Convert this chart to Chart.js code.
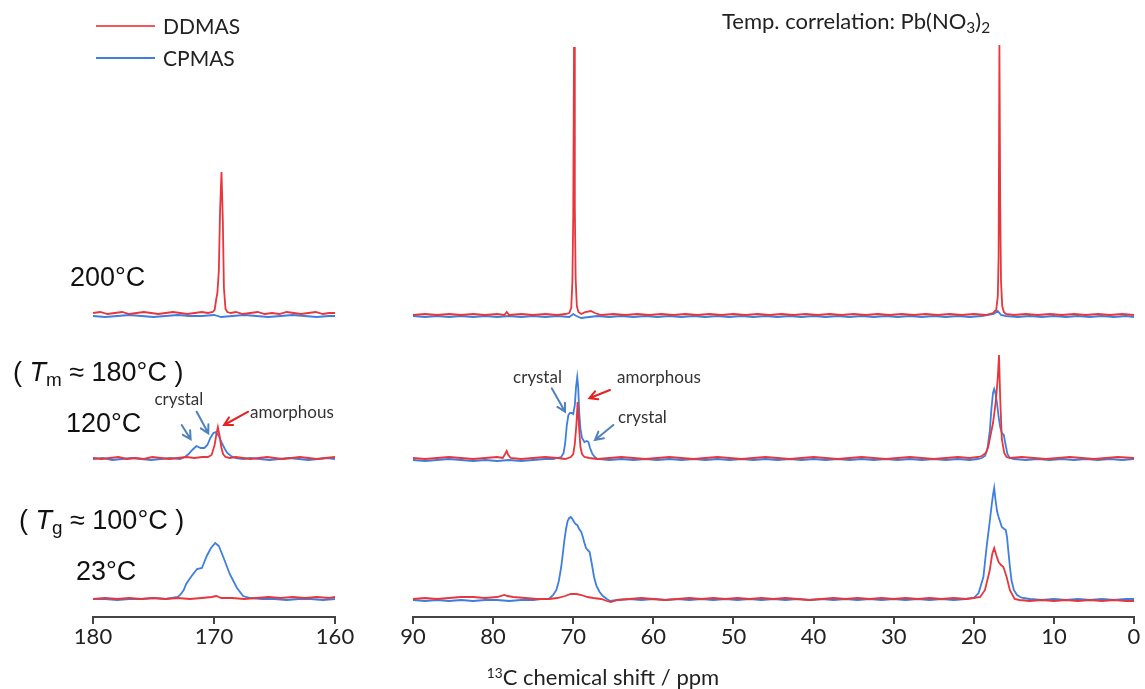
<!DOCTYPE html>
<html>
<head>
<meta charset="utf-8">
<script src="https://cdn.jsdelivr.net/npm/chart.js@4.4.0/dist/chart.umd.min.js"></script>
<style>
  body { margin: 0; width: 1145px; height: 689px; overflow: hidden; background: #fff; position: relative; font-family: Lato, sans-serif; color: #222; }
  canvas { position: absolute; top: 0; }
  #leftChart { left: 63px; }
  #rightChart { left: 388px; }
  .txt { position: absolute; white-space: nowrap; line-height: 1; }
  .temp { font-family: "Liberation Sans", Arial, sans-serif; font-size: 27px; color: #111; }
  .legline { position: absolute; left: 96px; width: 59px; height: 2px; }
  .leg { font-size: 21px; left: 163px; }
  sub { font-size: 70%; vertical-align: -0.25em; line-height: 0; }
  sup { font-size: 62%; vertical-align: 0.55em; line-height: 0; }
</style>
</head>
<body>
<canvas id="leftChart" width="302" height="689"></canvas>
<canvas id="rightChart" width="758" height="689"></canvas>

<div class="legline" style="top:25px;background:#ee5a5a"></div>
<div class="txt leg" style="top:15px">DDMAS</div>
<div class="legline" style="top:57px;background:#3d7ee0"></div>
<div class="txt leg" style="top:47px">CPMAS</div>

<div class="txt" style="left:722px;top:10px;font-size:22px">Temp. correlation: Pb(NO<sub>3</sub>)<sub>2</sub></div>

<div class="txt temp" style="left:70px;top:264px">200°C</div>
<div class="txt temp" style="left:13px;top:359px">( <i>T</i><sub>m</sub> ≈ 180°C )</div>
<div class="txt temp" style="left:66px;top:410px">120°C</div>
<div class="txt temp" style="left:19px;top:507px">( <i>T</i><sub>g</sub> ≈ 100°C )</div>
<div class="txt temp" style="left:76px;top:558px">23°C</div>

<div class="txt" style="left:603px;top:666px;font-size:22px;transform:translateX(-50%)"><sup>13</sup>C chemical shift / ppm</div>

<script>
// baselines of the three stacked spectra (y units, 1 unit = 1 px above the axis)
const offsets = { t200: 301, t120: 158, t23: 18 };

// ---- left panel, 180-160 ppm : [ppm, intensity] ----
const ddmas200L = [[180,3],[179.4,4],[178.8,2],[178.2,3],[177.6,4],[177,2],[176.4,3],[175.8,4],[175.2,3],[174.6,2],[174,3],[173.4,4],[172.8,3],[172.2,2],[171.6,3],[171,4],[170.5,3],[170.1,4],[169.95,6],[169.8,18],[169.72,23],[169.6,45],[169.5,105],[169.38,144],[169.27,95],[169.18,28],[169.05,7],[168.9,4],[168.6,3],[168.2,4],[167.6,2],[167,3],[166.4,4],[165.8,2],[165.2,3],[164.6,2],[164,4],[163.4,3],[162.8,2],[162.2,3],[161.6,4],[161,2],[160.5,3],[160,3]];
const cpmas200L = [[180,0],[179,-1],[178,0],[177,1],[176,0],[175,-1],[174,0],[173,1],[172,0],[171,0],[170,1],[169.4,-1],[168.5,0],[167.5,1],[166.5,0],[165.5,-1],[164.5,0],[163.5,1],[162.5,0],[161.5,-1],[160.5,0],[160,0]];

const ddmas120L = [[180,1],[179.3,0],[178.6,1],[177.9,2],[177.2,0],[176.5,1],[175.8,0],[175.1,2],[174.4,1],[173.7,0],[173,1],[172.3,2],[171.6,1],[171,2],[170.5,2],[170.2,4],[169.95,14],[169.8,25],[169.68,32],[169.55,24],[169.4,12],[169.25,5],[169.05,2],[168.7,1],[168.2,2],[167.6,1],[167,0],[166.3,1],[165.6,2],[165,1],[164.3,0],[163.6,1],[162.9,2],[162.2,1],[161.5,0],[160.8,1],[160,2]];
const cpmas120L = [[180,0],[179.2,1],[178.4,-1],[177.6,0],[176.8,1],[176,0],[175.2,-1],[174.4,0],[173.6,1],[172.8,0],[172.4,2],[172.1,5],[171.8,9],[171.45,13],[171.1,11],[170.8,11],[170.55,14],[170.3,21],[170.05,26],[169.85,27],[169.6,23],[169.35,16],[169.1,10],[168.9,6],[168.6,3],[168.2,1],[167.6,0],[167,1],[166.2,0],[165.4,-1],[164.6,0],[163.8,1],[163,0],[162.2,-1],[161.4,0],[160.6,1],[160,0]];

const ddmas23L = [[180,0],[179,1],[178,0],[177,1],[176,0],[175,1],[174,0],[173,1],[172,0],[171,1],[170.2,2],[169.8,3],[169.4,1],[168.5,1],[167.5,0],[166.5,1],[165.5,2],[164.5,1],[163.5,2],[162.5,1],[161.5,2],[160.5,1],[160,2]];
const cpmas23L = [[180,0],[179,0],[178,-1],[177,0],[176,0],[175,1],[174,0],[173.5,1],[173,2],[172.8,4],[172.5,9],[172.3,15],[171.85,23],[171.4,30],[171.0,31],[170.6,43],[170.25,51],[169.9,56],[169.6,53],[169.2,41],[168.7,25],[168.1,11],[167.6,3],[167,1],[166,0],[165,0],[164,-1],[163,0],[162,0],[161,-1],[160,0]];

// ---- right panel, 90-0 ppm ----
const ddmas200R = [[90,1],[88.5,2],[87,1],[85.5,2],[84,1],[82.5,2],[81,1],[79.5,2],[78.6,1],[78.3,4],[78,1],[76.5,2],[75,1],[73.5,2],[72,1],[71,2],[70.5,3],[70.25,8],[70.1,35],[70,100],[69.9,269],[69.8,110],[69.7,38],[69.55,10],[69.35,4],[69,2],[68.5,4],[67.8,5],[67.3,3],[66.5,1],[65,2],[63.5,1],[62,2],[60.5,1],[59,2],[57.5,1],[56,2],[54.5,1],[53,2],[51.5,1],[50,2],[48.5,1],[47,2],[45.5,1],[44,2],[42.5,1],[41,2],[39.5,1],[38,2],[36.5,1],[35,2],[33.5,1],[32,2],[30.5,1],[29,2],[27.5,1],[26,2],[24.5,1],[23,2],[21.5,1],[20,2],[18.5,1],[17.6,3],[17.2,6],[17,20],[16.9,60],[16.8,271],[16.7,110],[16.6,35],[16.45,10],[16.25,4],[16,2],[15,1],[13.5,2],[12,1],[10.5,2],[9,1],[7.5,2],[6,1],[4.5,2],[3,1],[1.5,2],[0,1]];
const cpmas200R = [[90,0],[88.5,-1],[87,0],[85.5,-1],[84,0],[82.5,-1],[81,0],[79.5,-1],[78,0],[76.5,-1],[75,0],[73.5,-1],[72,0],[70.5,-1],[70,2],[69.6,0],[69,-2],[68,-1],[67,0],[65.5,-1],[64,0],[62.5,-1],[61,0],[59.5,-1],[58,0],[56.5,-1],[55,0],[53.5,-1],[52,0],[50.5,-1],[49,0],[47.5,-1],[46,0],[44.5,-1],[43,0],[41.5,-1],[40,0],[38.5,-1],[37,0],[35.5,-1],[34,0],[32.5,-1],[31,0],[29.5,-1],[28,0],[26.5,-1],[25,0],[23.5,-1],[22,0],[20.5,-1],[19,0],[17.5,2],[17,5],[16.6,1],[16,0],[14.5,-1],[13,0],[11.5,-1],[10,0],[8.5,-1],[7,0],[5.5,-1],[4,0],[2.5,-1],[1,0],[0,-1]];

const ddmas120R = [[90,1],[88.5,0],[87,1],[85.5,2],[84,1],[82.5,0],[81,1],[79.5,2],[78.8,1],[78.5,5],[78.3,8],[78.1,4],[77.8,1],[76.5,0],[75,1],[73.5,2],[72,1],[71,0],[70.3,2],[70,5],[69.8,15],[69.6,35],[69.45,57],[69.3,35],[69.1,12],[68.9,5],[68.6,2],[68,1],[67,0],[65.5,1],[64,2],[62.5,1],[61,0],[59.5,1],[58,2],[56.5,1],[55,0],[53.5,1],[52,2],[50.5,1],[49,0],[47.5,1],[46,2],[44.5,1],[43,0],[41.5,1],[40,2],[38.5,1],[37,0],[35.5,1],[34,2],[32.5,1],[31,0],[29.5,1],[28,2],[26.5,1],[25,0],[23.5,1],[22,2],[20.5,1],[19.5,2],[19,3],[18.5,6],[18.2,12],[17.9,24],[17.6,36],[17.4,48],[17.2,62],[17.0,82],[16.85,104],[16.7,60],[16.5,20],[16.2,6],[15.9,2],[15.5,1],[14,2],[12.5,1],[11,0],[9.5,1],[8,2],[6.5,1],[5,0],[3.5,1],[2,2],[0,1]];
const cpmas120R = [[90,-1],[88.5,-2],[87,-1],[85.5,0],[84,-1],[82.5,-2],[81,-1],[79.5,-2],[78,-1],[76.5,-2],[75,-1],[73.5,0],[72.5,0],[72,1],[71.5,2],[71.2,6],[71,16],[70.8,34],[70.6,44],[70.4,46],[70.2,46],[70,45],[69.8,54],[69.65,72],[69.5,82],[69.38,72],[69.25,47],[69.1,30],[68.9,21],[68.6,17],[68.3,18],[68.1,17],[67.9,11],[67.6,5],[67.3,2],[67,0],[65.5,-1],[64,0],[62.5,-1],[61,0],[59.5,-1],[58,0],[56.5,-1],[55,0],[53.5,-1],[52,0],[50.5,-1],[49,0],[47.5,-1],[46,0],[44.5,-1],[43,0],[41.5,-1],[40,0],[38.5,-1],[37,0],[35.5,-1],[34,0],[32.5,-1],[31,0],[29.5,-1],[28,0],[26.5,-1],[25,0],[23.5,-1],[22,0],[20.5,-1],[19.5,0],[19,1],[18.6,3],[18.3,10],[18.0,28],[17.8,50],[17.6,66],[17.45,70],[17.3,66],[17.1,56],[16.9,42],[16.7,32],[16.5,26],[16.25,24],[16.05,15],[15.8,5],[15.5,1],[15,0],[13.5,-1],[12,0],[10.5,-1],[9,0],[7.5,-1],[6,0],[4.5,-1],[3,0],[1.5,-1],[0,0]];

const ddmas23R = [[90,0],[88.5,1],[87,0],[85.5,1],[84,2],[82.5,2],[81,1],[79.5,2],[78.6,4],[78.2,3],[77.5,2],[76,1],[74.5,0],[73,0],[72,1],[71,3],[70.3,5],[69.6,5],[69,4],[68.2,2],[67.5,1],[66.5,0],[65.8,-2],[65.3,-3],[64.5,-1],[63,0],[61.5,1],[60,0],[58.5,-1],[57,0],[55.5,1],[54,0],[52.5,1],[51,0],[49.5,1],[48,0],[46.5,1],[45,0],[43.5,1],[42,0],[40.5,-1],[39,0],[37.5,1],[36,0],[34.5,1],[33,0],[31.5,1],[30,0],[28.5,1],[27,0],[25.5,1],[24,0],[22.5,1],[21,0],[20,1],[19.2,2],[18.6,9],[18.0,29],[17.7,45],[17.45,51],[17.2,44],[16.9,37],[16.6,34],[16.3,32],[15.9,22],[15.5,9],[14.9,0],[14.3,-1],[13,-2],[11.5,-1],[10,-2],[8.5,-1],[7,-2],[5.5,-1],[4,-2],[2.5,-1],[1,-2],[0,-2]];
const cpmas23R = [[90,-1],[88.5,-2],[87,-1],[85.5,-2],[84,-1],[82.5,-2],[81,-1],[79.5,-1],[78,-2],[76.5,-1],[75,-1],[74,0],[73.2,0],[72.9,1],[72.5,4],[72.1,9],[71.8,18],[71.5,32],[71.3,45],[71.1,59],[70.9,70],[70.7,78],[70.5,81],[70.3,82],[70.1,80],[69.9,77],[69.7,75],[69.5,74],[69.25,70],[69.0,67],[68.8,62],[68.6,56],[68.4,51],[68.2,49],[67.95,47],[67.7,36],[67.4,22],[67.1,13],[66.7,7],[66.3,3],[65.8,0],[65.4,-2],[64.5,-1],[63,0],[61.5,-1],[60,0],[58.5,-1],[57,0],[55.5,-1],[54,0],[52.5,-1],[51,0],[49.5,-1],[48,0],[46.5,-1],[45,0],[43.5,-1],[42,0],[40.5,-1],[39,0],[37.5,-1],[36,0],[34.5,-1],[33,0],[31.5,-1],[30,0],[28.5,-1],[27,0],[25.5,-1],[24,0],[22.5,-1],[21,0],[20,1],[19.4,6],[18.8,22],[18.4,52],[18.0,78],[17.75,95],[17.6,104],[17.45,111],[17.3,100],[17.1,88],[16.9,82],[16.7,77],[16.5,72],[16.2,70],[16.0,69],[15.85,62],[15.7,49],[15.5,33],[15.3,19],[15.0,9],[14.6,4],[14.2,2],[13.8,1],[13,0],[11.5,-1],[10,0],[8.5,-1],[7,0],[5.5,-1],[4,0],[2.5,-1],[1,0],[0,0]];

const ticksLeft = [180, 170, 160];
const ticksRight = [90, 80, 70, 60, 50, 40, 30, 20, 10, 0];

const RED = '#e8363c';
const BLUE = '#3d7ee0';
const ARROW_BLUE = '#4f81bd';
const ARROW_RED = '#e82020';

// annotations in data coords (ppm, y units)
const notesLeft = {
    labels: [
        { text: 'crystal', x: 172.9, y: 217, align: 'center' },
        { text: 'amorphous', x: 167.02, y: 204, align: 'left' }
    ],
    arrows: [
        { from: [172.67, 192], to: [171.93, 177.7], color: ARROW_BLUE },
        { from: [171.43, 205.3], to: [170.47, 183.7], color: ARROW_BLUE },
        { from: [167.17, 205.3], to: [169.17, 192], color: ARROW_RED }
    ]
};
const notesRight = {
    labels: [
        { text: 'crystal', x: 74.46, y: 239, align: 'center' },
        { text: 'amorphous', x: 64.53, y: 239, align: 'left' },
        { text: 'crystal', x: 64.41, y: 199, align: 'left' }
    ],
    arrows: [
        { from: [72.68, 228.7], to: [71.02, 205.3], color: ARROW_BLUE },
        { from: [65.41, 227], to: [67.99, 218.7], color: ARROW_RED },
        { from: [64.99, 192], to: [67.28, 177], color: ARROW_BLUE }
    ]
};

function toPoints(arr, off) {
    return arr.map(p => ({ x: p[0], y: p[1] + off }));
}

function spectra(sets) {
    // red (DDMAS) first so it is drawn on top
    return sets.map(s => ({
        label: s.name,
        data: toPoints(s.data, s.off),
        borderColor: s.color,
        borderWidth: 1.8,
        pointRadius: 0,
        tension: 0,
        fill: false
    }));
}

const notePlugin = {
    id: 'notes',
    afterDatasetsDraw(chart, args, opts) {
        const { ctx } = chart;
        const x = chart.scales.x, y = chart.scales.y;
        ctx.save();
        ctx.font = '17px Lato, sans-serif';
        ctx.fillStyle = '#333';
        ctx.textBaseline = 'middle';
        (opts.labels || []).forEach(l => {
            ctx.textAlign = l.align;
            ctx.fillText(l.text, x.getPixelForValue(l.x), y.getPixelForValue(l.y));
        });
        (opts.arrows || []).forEach(a => {
            const x1 = x.getPixelForValue(a.from[0]), y1 = y.getPixelForValue(a.from[1]);
            const x2 = x.getPixelForValue(a.to[0]), y2 = y.getPixelForValue(a.to[1]);
            const ang = Math.atan2(y2 - y1, x2 - x1);
            ctx.strokeStyle = a.color;
            ctx.lineWidth = 2;
            ctx.lineCap = 'round';
            ctx.beginPath();
            ctx.moveTo(x1, y1);
            ctx.lineTo(x2, y2);
            ctx.moveTo(x2 - 9 * Math.cos(ang - 0.5), y2 - 9 * Math.sin(ang - 0.5));
            ctx.lineTo(x2, y2);
            ctx.lineTo(x2 - 9 * Math.cos(ang + 0.5), y2 - 9 * Math.sin(ang + 0.5));
            ctx.stroke();
        });
        ctx.restore();
    }
};

function makeOptions(min, max, tickVals, pad, notes) {
    return {
        responsive: false,
        animation: false,
        layout: { padding: pad },
        plugins: { legend: { display: false }, tooltip: { enabled: false }, notes: notes },
        scales: {
            x: {
                type: 'linear',
                reverse: true,
                min: min,
                max: max,
                afterBuildTicks: axis => { axis.ticks = tickVals.map(v => ({ value: v })); },
                ticks: { color: '#222', padding: 0, font: { family: 'Lato', size: 22 } },
                grid: { drawOnChartArea: false, drawTicks: true, tickLength: 7, color: '#444', lineWidth: 2 },
                border: { display: true, color: '#444', width: 2 }
            },
            y: { display: false, min: 0, max: 600 }
        }
    };
}

new Chart(document.getElementById('leftChart'), {
    type: 'line',
    data: {
        datasets: spectra([
            { name: 'DDMAS 200', data: ddmas200L, off: offsets.t200, color: RED },
            { name: 'DDMAS 120', data: ddmas120L, off: offsets.t120, color: RED },
            { name: 'DDMAS 23', data: ddmas23L, off: offsets.t23, color: RED },
            { name: 'CPMAS 200', data: cpmas200L, off: offsets.t200, color: BLUE },
            { name: 'CPMAS 120', data: cpmas120L, off: offsets.t120, color: BLUE },
            { name: 'CPMAS 23', data: cpmas23L, off: offsets.t23, color: BLUE }
        ])
    },
    options: makeOptions(160, 180, ticksLeft, { left: 30, right: 30, top: 17, bottom: 38.6 }, notesLeft),
    plugins: [notePlugin]
});

new Chart(document.getElementById('rightChart'), {
    type: 'line',
    data: {
        datasets: spectra([
            { name: 'DDMAS 200', data: ddmas200R, off: offsets.t200, color: RED },
            { name: 'DDMAS 120', data: ddmas120R, off: offsets.t120, color: RED },
            { name: 'DDMAS 23', data: ddmas23R, off: offsets.t23, color: RED },
            { name: 'CPMAS 200', data: cpmas200R, off: offsets.t200, color: BLUE },
            { name: 'CPMAS 120', data: cpmas120R, off: offsets.t120, color: BLUE },
            { name: 'CPMAS 23', data: cpmas23R, off: offsets.t23, color: BLUE }
        ])
    },
    options: makeOptions(0, 90, ticksRight, { left: 25, right: 12, top: 17, bottom: 38.6 }, notesRight),
    plugins: [notePlugin]
});
</script>
</body>
</html>
